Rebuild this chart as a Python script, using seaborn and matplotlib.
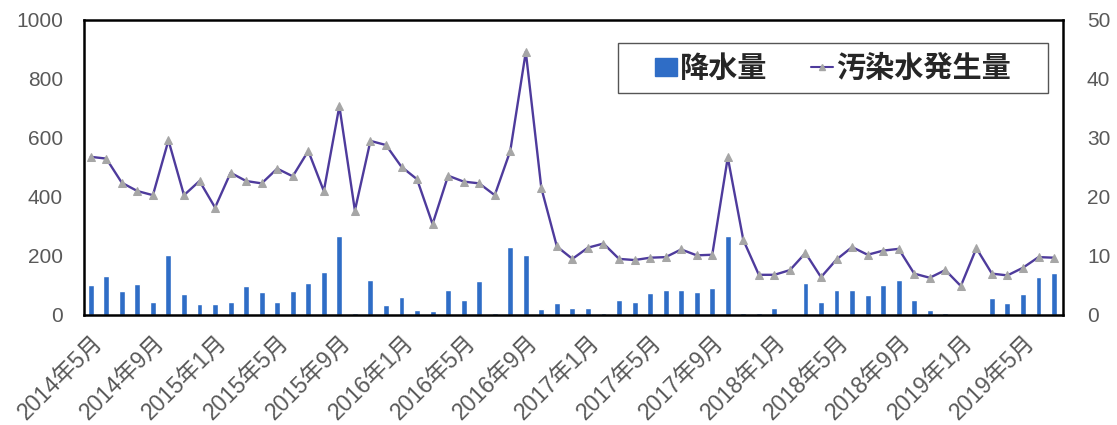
import numpy as np
import pandas as pd
import seaborn as sns
import matplotlib.pyplot as plt
from matplotlib.patches import Patch, Rectangle
from matplotlib.lines import Line2D

# monthly data, 2014年5月 .. 2019年7月
months = pd.period_range("2014-05", "2019-07", freq="M")

rain = [101, 131, 81, 105, 45, 202, 72, 38, 38, 44, 97, 77, 44, 80, 109, 146,
        266, 5, 119, 33, 61, 17, 13, 86, 49, 114, 5, 229, 204, 21, 39, 25,
        25, 5, 49, 44, 73, 85, 83, 78, 92, 266, 5, 5, 25, 2, 109, 45,
        83, 85, 67, 103, 120, 52, 17, 8, 3, 3, 58, 41, 72, 129, 142]

water = [26.8, 26.5, 22.4, 21.0, 20.3, 29.6, 20.3, 22.7, 18.2, 24.1, 22.7, 22.3,
         24.8, 23.5, 27.8, 21.0, 35.4, 17.7, 29.5, 28.8, 25.1, 23.0, 15.4, 23.6,
         22.6, 22.3, 20.3, 27.8, 44.6, 21.5, 11.6, 9.5, 11.4, 12.1, 9.5, 9.3,
         9.7, 9.8, 11.1, 10.1, 10.2, 26.7, 12.7, 6.8, 6.8, 7.6, 10.5, 6.4,
         9.4, 11.5, 10.2, 10.9, 11.2, 7.0, 6.3, 7.6, 4.9, 11.3, 7.0, 6.7,
         8.0, 9.8, 9.7]

labels = [f"{p.year}年{p.month}月" for p in months]

df = pd.DataFrame({"idx": np.arange(len(months)), "rain": rain, "water": water})

bar_color = "#2F6DC6"
line_color = "#4E3B9C"
marker_gray = "#A6A6A6"
gray = "#595959"

sns.set_style("white")
plt.rcParams['font.family'] = ['Liberation Sans', 'Noto Sans CJK JP']

fig = plt.figure(figsize=(11.17, 4.25), dpi=100)
ax = fig.add_axes([0.075, 0.259, 0.877, 0.694])

sns.barplot(data=df, x="idx", y="rain", native_scale=True, width=0.38,
            color=bar_color, saturation=1, ax=ax)
ax.set_ylim(0, 1000)
ax.set_xlim(-0.45, 62.6)
ax.set_yticks(range(0, 1001, 200))
ax.set_xticks(df["idx"][::4])
ax.set_xticklabels(labels[::4], rotation=45, ha="right", rotation_mode="anchor",
                   fontsize=16.5)
ax.set_xlabel("")
ax.set_ylabel("")
ax.tick_params(axis="both", length=0, colors=gray)
ax.tick_params(axis="y", pad=15, labelsize=15)
ax.tick_params(axis="x", pad=11)
for s in ax.spines.values():
    s.set_color("black")
    s.set_linewidth(1.8)

ax2 = ax.twinx()
sns.lineplot(data=df, x="idx", y="water", color=line_color, linewidth=1.7,
             marker="^", markersize=6, markerfacecolor=marker_gray,
             markeredgecolor=marker_gray, ax=ax2)
ax2.set_ylim(0, 50)
ax2.set_yticks(range(0, 51, 10))
ax2.set_ylabel("")
ax2.tick_params(axis="y", length=0, labelsize=15, colors=gray, pad=17)
for s in ax2.spines.values():
    s.set_visible(False)

# legend frame drawn separately (wide side padding as in the original)
ax2.add_patch(Rectangle((0.545, 0.753), 0.439, 0.169, transform=ax2.transAxes,
                        fill=True, facecolor="white", edgecolor="#555555",
                        linewidth=1.0, zorder=5))
handles = [Patch(facecolor=bar_color, edgecolor=bar_color),
           Line2D([], [], color=line_color, marker="^", markersize=4,
                  markerfacecolor=marker_gray, markeredgecolor=marker_gray)]
leg = ax2.legend(handles, ["降水量", "汚染水発生量"], loc="center",
                 bbox_to_anchor=(0.765, 0.837), ncol=2, frameon=False,
                 handlelength=0.75, handleheight=0.6,
                 handletextpad=0.1, columnspacing=1.5, borderpad=0.2,
                 prop={"size": 21, "weight": "bold",
                       "family": ['Noto Sans CJK JP']})
leg.set_zorder(6)

fig.savefig("out.png", dpi=100)
